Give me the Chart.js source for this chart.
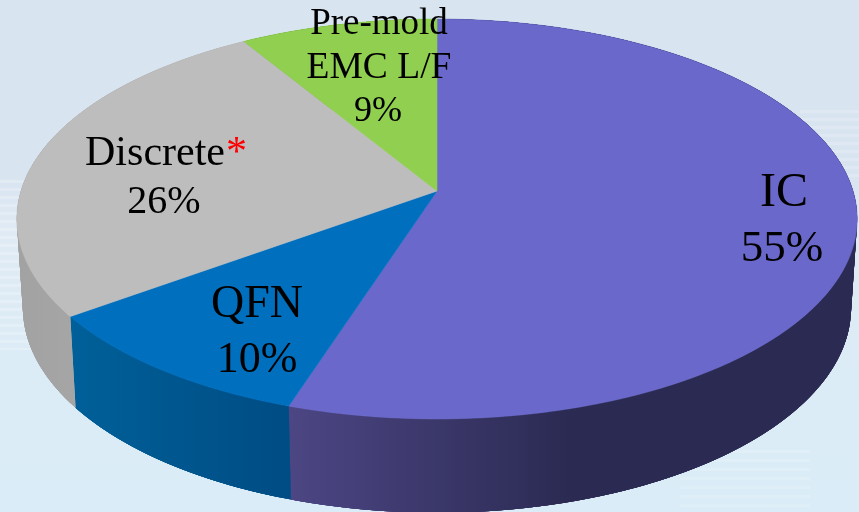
<!DOCTYPE html>
<html><head><meta charset="utf-8">
<style>
html,body{margin:0;padding:0;width:859px;height:512px;overflow:hidden;background:#d8e4f0}
#wrap{position:relative;width:859px;height:512px;
background:
 repeating-linear-gradient(180deg,rgba(255,255,255,.22) 0 3px,rgba(255,255,255,0) 3px 8px) 0 180px/60px 170px no-repeat,
 repeating-linear-gradient(180deg,rgba(255,255,255,.2) 0 3px,rgba(255,255,255,0) 3px 8px) 800px 110px/59px 70px no-repeat,
 repeating-linear-gradient(180deg,rgba(255,255,255,.14) 0 3px,rgba(255,255,255,0) 3px 9px) 680px 450px/130px 62px no-repeat,
 linear-gradient(180deg,#d8e4f0 0,#d8e4f0 175px,#dfeaf4 230px,#dbecf6 400px,#daecf7 512px)}
canvas{display:block}
</style>
<script src="https://cdn.jsdelivr.net/npm/chart.js@4"></script>
</head><body><div id="wrap"><canvas id="c" width="859" height="512"></canvas></div>
<script>
const categories = ['IC','QFN','Discrete','Pre-mold\nEMC L/F'];
const shares = [55,10,26.3,8.7];
const topColors = ['#6a69cb','#006fbe','#bdbdbd','#90cf50'];
const sideColorsLeft = ['#4c4684','#006099','#a2a2a2','#6f9f3e'];
const sideColorsRight = ['#2b2a52','#004c84','#b0b0b0','#6f9f3e'];

const TILT=0.14;
const topFace={cx:437,cy:191,bx:416,by:196};
const baseFace={cx:437,cy:279,bx:410,by:201};
const project=(f,ang)=>{const X=Math.cos(ang),Y=-Math.sin(ang),w=1+TILT*Y;
  return [f.cx+f.bx*X/w,f.cy-f.by*Y/w];};
const STEP=Math.PI/360;
const anglesOf=a=>{const r=[];for(let t=a.startAngle;t<a.endAngle;t+=STEP)r.push(t);r.push(a.endAngle);return r;};

const labelPlaces=[
 {x:[784,782],y:[206,261],size:[48,45]},
 {x:[257,257],y:[317,372],size:[46,44]},
 {x:[155,164],y:[165,213],size:[42,40]},
 {x:[379,379,378],y:[34,78,121],size:[37,37.5,36]}
];

const pie3d={id:'pie3d',
 beforeDatasetDraw(chart){
  const ctx=chart.ctx, arcs=chart.getDatasetMeta(0).data;
  ctx.save();
  // walls: a clean band between rim and base, then strips that fill out the silhouette
  arcs.forEach((arc,i)=>{
   const ts=anglesOf(arc), xs=ts.map(t=>project(topFace,t)[0]);
   const x0=Math.min(...xs), x1=Math.max(...xs);
   const g=ctx.createLinearGradient(x0,0,x1,0);
   g.addColorStop(0,sideColorsLeft[i]);
   g.addColorStop(i===0?0.5:1,sideColorsRight[i]);
   if(i===0)g.addColorStop(1,sideColorsRight[i]);
   ctx.fillStyle=g;
   ctx.beginPath();
   ts.forEach((t,j)=>{const p=project(topFace,t);j?ctx.lineTo(p[0],p[1]):ctx.moveTo(p[0],p[1]);});
   ts.slice().reverse().forEach(t=>{const p=project(baseFace,t);ctx.lineTo(p[0],p[1]);});
   ctx.closePath();ctx.fill();
   for(let j=0;j<ts.length-1;j++){
    const k=Math.min(j+4,ts.length-1);
    const a=project(topFace,ts[j]),b=project(topFace,ts[k]),
          c=project(baseFace,ts[k]),d=project(baseFace,ts[j]);
    ctx.beginPath();ctx.moveTo(a[0],a[1]);ctx.lineTo(b[0],b[1]);ctx.lineTo(c[0],c[1]);ctx.lineTo(d[0],d[1]);
    ctx.closePath();ctx.fill();
   }
  });
  // top surface
  arcs.forEach((arc,i)=>{
   ctx.fillStyle=topColors[i];ctx.strokeStyle=topColors[i];ctx.lineWidth=0.6;
   ctx.beginPath();ctx.moveTo(topFace.cx,topFace.cy);
   anglesOf(arc).forEach(t=>{const p=project(topFace,t);ctx.lineTo(p[0],p[1]);});
   ctx.closePath();ctx.fill();ctx.stroke();
  });
  ctx.restore();
  return false;
 },
 afterDatasetsDraw(chart){
  const ctx=chart.ctx;
  ctx.save();ctx.textAlign='center';ctx.textBaseline='alphabetic';
  categories.forEach((c,i)=>{
   const lines=[...c.split('\n'),Math.round(shares[i])+'%'], pl=labelPlaces[i];
   lines.forEach((s,j)=>{
    ctx.font=pl.size[j]+'px "Liberation Serif"';ctx.fillStyle='#000';
    ctx.fillText(s,pl.x[j],pl.y[j]);
    if(c==='Discrete'&&j===0){
     const w=ctx.measureText(s).width;
     ctx.textAlign='left';ctx.fillStyle='#ff0000';
     ctx.fillText('*',pl.x[j]+w/2+1,pl.y[j]);
     ctx.textAlign='center';
    }
   });
  });
  ctx.restore();
 }
};

new Chart(document.getElementById('c'),{
 type:'pie',
 data:{labels:categories,datasets:[{data:shares,backgroundColor:topColors,borderWidth:0}]},
 options:{responsive:false,animation:false,rotation:0,
  plugins:{legend:{display:false},tooltip:{enabled:false}}},
 plugins:[pie3d]
});
</script></body></html>
